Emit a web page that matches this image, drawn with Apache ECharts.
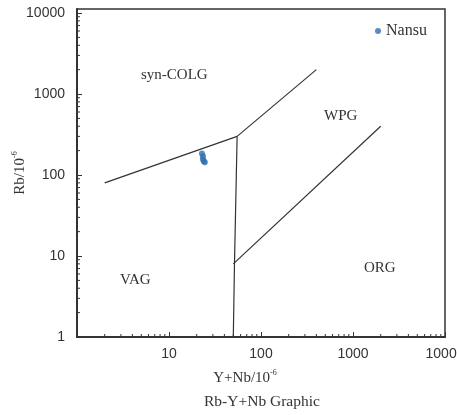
<!DOCTYPE html>
<html>
<head>
<meta charset="utf-8">
<script src="https://cdn.jsdelivr.net/npm/echarts@6/dist/echarts.min.js"></script>
<style>
  html, body { margin: 0; padding: 0; background: #fff; }
  #chart { width: 457px; height: 415px; }
</style>
</head>
<body>
<div id="chart"></div>
<script>
// Rb vs Y+Nb discrimination diagram (Pearce et al., 1984)
const seriesName = 'Nansu';
const sampleYNb = [22.8, 23.4, 23.4, 23.9, 24.5];
const sampleRb  = [185, 171, 157, 148, 144];

// Field boundaries, as [Y+Nb, Rb] vertices
const boundaryColgVag = [[2, 80], [55, 300]];
const boundaryColgWpg = [[55, 300], [400, 2000]];
const boundaryVagWpg  = [[55, 300], [51.5, 8], [50, 1]];
const boundaryWpgOrg  = [[50, 8], [2000, 400]];

const xTickLabels = ['1', '10', '100', '1000', '10000'];
const yTickLabels = ['1', '10', '100', '1000', '10000'];

// minor log ticks 2..9 in each decade
function minorTicks(lo, hi) {
  const out = [];
  for (let d = lo; d < hi; d *= 10) {
    for (let k = 2; k <= 9; k++) out.push(d * k);
  }
  return out;
}
const xMinor = minorTicks(1, 10000);
const yMinor = minorTicks(1, 10000);

const serif = 'Liberation Serif';
const sans = 'Liberation Sans';
const ink = '#333';

function boundary(points) {
  return {
    type: 'line',
    data: points,
    symbol: 'none',
    silent: true,
    lineStyle: { color: ink, width: 1.2 },
    z: 3
  };
}

function tickText(list) {
  return v => list.find(t => Math.abs(Number(t) - v) < 1e-6 * v) || '';
}

const chart = echarts.init(document.getElementById('chart'), null, { renderer: 'canvas' });

chart.setOption({
  animation: false,
  backgroundColor: '#fff',
  grid: {
    left: 77, right: 12, top: 9, bottom: 78,
    outerBoundsMode: 'none',
    containLabel: false,
    show: true, borderColor: ink, borderWidth: 1.5, backgroundColor: 'transparent'
  },
  legend: {
    data: [seriesName],
    left: 370, top: 18,
    icon: 'circle',
    itemWidth: 6, itemHeight: 6, itemGap: 5,
    textStyle: { fontFamily: serif, fontSize: 16, color: ink }
  },
  xAxis: {
    type: 'log', logBase: 10, min: 1, max: 10000,
    name: '{n|Y+Nb/10}{s|-6}',
    nameLocation: 'middle', nameGap: 32,
    nameMoveOverlap: false,
    nameTextStyle: {
      padding: [0, 32, 0, 0],
      rich: {
        n: { fontFamily: serif, fontSize: 15, color: ink, lineHeight: 18 },
        s: { fontFamily: serif, fontSize: 8, color: ink, verticalAlign: 'top', lineHeight: 18 }
      }
    },
    axisLine: { show: true, lineStyle: { color: ink, width: 2 } },
    axisTick: { show: true, inside: true, length: 5, lineStyle: { color: ink } },
    splitLine: { show: false },
    axisLabel: {
      fontFamily: sans, fontSize: 14, color: ink, margin: 10,
      showMinLabel: false,
      formatter: tickText(xTickLabels)
    }
  },
  yAxis: {
    type: 'log', logBase: 10, min: 1, max: 11220,
    name: '{n|Rb/10}{s|-6}',
    nameLocation: 'middle', nameGap: 48, nameRotate: 90,
    nameMoveOverlap: false,
    nameTextStyle: {
      rich: {
        n: { fontFamily: serif, fontSize: 15, color: ink, lineHeight: 18 },
        s: { fontFamily: serif, fontSize: 8, color: ink, verticalAlign: 'top', lineHeight: 18 }
      }
    },
    axisLine: { show: true, lineStyle: { color: ink, width: 2 } },
    axisTick: { show: true, inside: true, length: 5, lineStyle: { color: ink } },
    splitLine: { show: false },
    axisLabel: {
      fontFamily: sans, fontSize: 14, color: ink, margin: 12,
      showMaxLabel: false,
      formatter: tickText(yTickLabels)
    }
  },
  graphic: [
    { type: 'text', left: 141, top: 68, style: { text: 'syn-COLG', font: '15px "Liberation Serif"', fill: ink } },
    { type: 'text', left: 324, top: 109, style: { text: 'WPG', font: '15px "Liberation Serif"', fill: ink } },
    { type: 'text', left: 120, top: 273, style: { text: 'VAG', font: '15px "Liberation Serif"', fill: ink } },
    { type: 'text', left: 364, top: 261, style: { text: 'ORG', font: '15px "Liberation Serif"', fill: ink } },
    { type: 'text', left: 204, top: 394, style: { text: 'Rb-Y+Nb Graphic', font: '15.5px "Liberation Serif"', fill: ink } }
  ],
  series: [
    boundary(boundaryColgVag),
    boundary(boundaryColgWpg),
    boundary(boundaryVagWpg),
    boundary(boundaryWpgOrg),
    {
      // minor ticks on the x axis
      type: 'custom',
      silent: true,
      clip: false,
      data: xMinor.map(v => [v, 1]),
      renderItem: (params, api) => {
        const p = api.coord([api.value(0), 1]);
        return { type: 'line', shape: { x1: p[0], y1: p[1], x2: p[0], y2: p[1] - 3 }, style: { stroke: ink, lineWidth: 1 } };
      },
      z: 4
    },
    {
      // minor ticks on the y axis
      type: 'custom',
      silent: true,
      clip: false,
      data: yMinor.map(v => [1, v]),
      renderItem: (params, api) => {
        const p = api.coord([1, api.value(1)]);
        return { type: 'line', shape: { x1: p[0], y1: p[1], x2: p[0] + 3, y2: p[1] }, style: { stroke: ink, lineWidth: 1 } };
      },
      z: 4
    },
    {
      name: seriesName,
      type: 'scatter',
      data: sampleYNb.map((x, i) => [x, sampleRb[i]]),
      symbol: 'circle',
      symbolSize: 6,
      itemStyle: { color: '#2f6fb0' },
      z: 5
    }
  ]
});
</script>
</body>
</html>
